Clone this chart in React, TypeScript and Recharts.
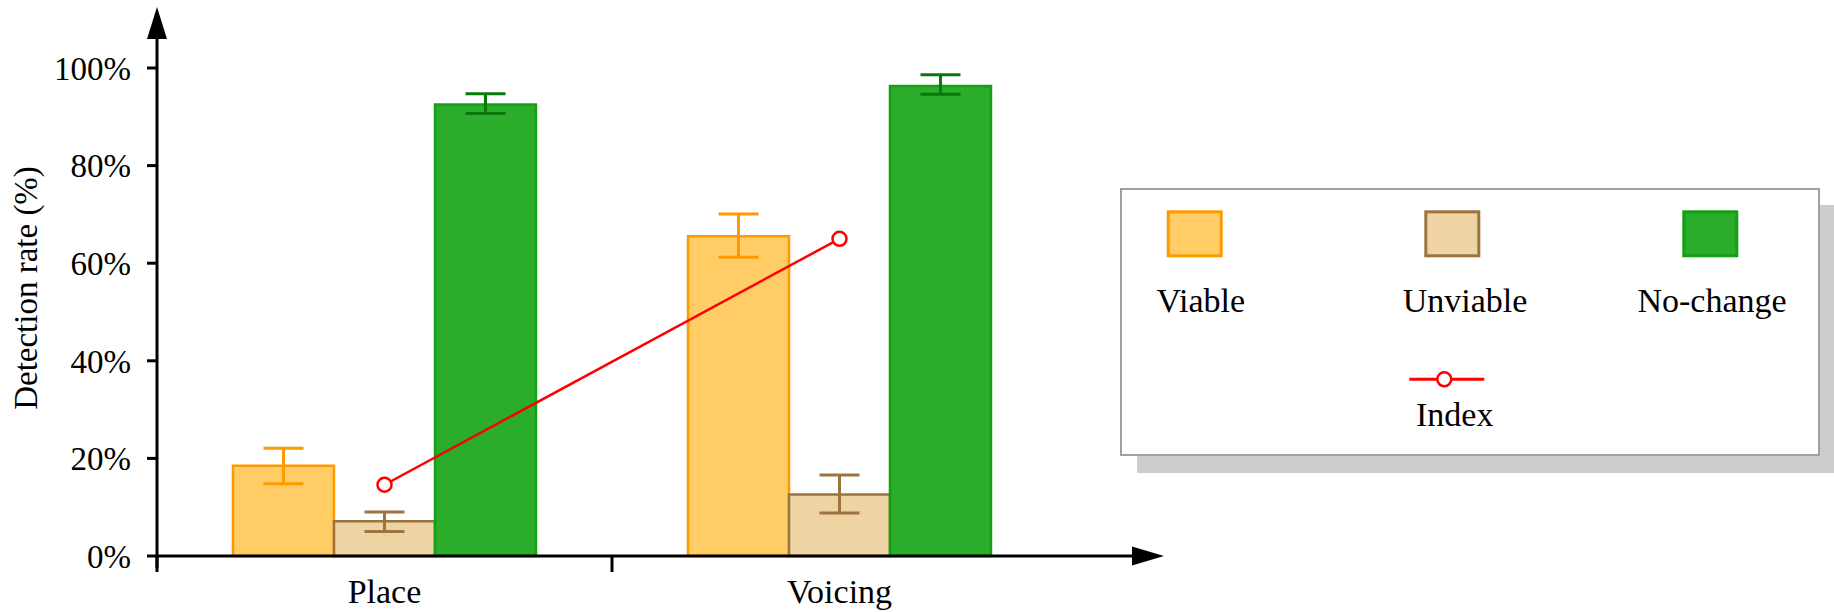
import React from 'react';
import { ComposedChart, Bar, Line, XAxis, YAxis, ErrorBar, Legend } from 'recharts';

// ---- data ----
const categories = ['Place', 'Voicing'];
const viable = [18.5, 65.5];
const viableErr = [[3.7, 3.6], [4.3, 4.6]];
const unviable = [7.1, 12.6];
const unviableErr = [[2.1, 1.9], [3.8, 4.0]];
const noChange = [92.5, 96.3];
const noChangeErr = [[1.8, 2.2], [1.7, 2.3]];
const indexValues = [14.6, 65.0];
const yTicks = [0, 20, 40, 60, 80, 100];
const seriesNames = ['Viable', 'Unviable', 'No-change'];
const indexName = 'Index';
const yLabel = 'Detection rate (%)';

// ---- styles ----
const FONT = "'Liberation Serif', 'Times New Roman', Times, serif";
const fills = ['#FFCC66', '#EED3A3', '#2BAC2B'];
const strokes = ['#FF9900', '#9C7440', '#14A014'];
const errStrokes = ['#FF9900', '#9C7440', '#0B780B'];
const INDEX_COLOR = '#FF0000';

const W = 1834;
const H = 612;
const PLOT_LEFT = 157;
const PLOT_TOP = 68;
const PLOT_BOTTOM = 556;
const PLOT_RIGHT = 1067;
const Y_AXIS_W = 60;
const X_AXIS_H = H - PLOT_BOTTOM;

const data = categories.map((c, i) => ({
  name: c,
  viable: viable[i],
  viableErr: viableErr[i],
  unviable: unviable[i],
  unviableErr: unviableErr[i],
  noChange: noChange[i],
  noChangeErr: noChangeErr[i],
  index: indexValues[i],
}));

const XTick = (props: any) => {
  const { x, y, payload } = props;
  const half = payload && payload.offset ? payload.offset : 0;
  return (
    <g>
      <line x1={x - half} x2={x - half} y1={y} y2={y + 16} stroke="#000" strokeWidth={3} />
      <text x={x} y={y + 47} textAnchor="middle" fontFamily={FONT} fontSize={34} fill="#000">
        {payload.value}
      </text>
    </g>
  );
};

const LegendBox = () => {
  const swatchX = [46.7, 304.3, 562.3];
  const textX = [80.8, 345, 592];
  return (
    <div style={{ position: 'relative', width: 700, height: 268 }}>
      <div
        style={{
          position: 'absolute',
          left: 0,
          top: 0,
          width: 700,
          height: 268,
          boxSizing: 'border-box',
          border: '2.5px solid #A0A0A0',
          background: '#fff',
          boxShadow: '17px 17px 0 #CCCCCC',
        }}
      />
      <svg width={700} height={268} style={{ position: 'absolute', left: 0, top: 0 }}>
        {seriesNames.map((n, i) => (
          <g key={n}>
            <rect x={swatchX[i] + 1.5} y={23.8} width={53} height={44} fill={fills[i]} stroke={strokes[i]} strokeWidth={3} />
            <text x={textX[i]} y={123.7} textAnchor="middle" fontFamily={FONT} fontSize={34} fill="#000">
              {n}
            </text>
          </g>
        ))}
        <line x1={289.3} x2={364.3} y1={191.3} y2={191.3} stroke={INDEX_COLOR} strokeWidth={3} />
        <circle cx={324.3} cy={191.3} r={7} fill="#fff" stroke={INDEX_COLOR} strokeWidth={2.5} />
        <text x={334.7} y={238} textAnchor="middle" fontFamily={FONT} fontSize={34} fill="#000">
          {indexName}
        </text>
      </svg>
    </div>
  );
};

export default function App() {
  return (
    <div style={{ position: 'absolute', left: 0, top: 0, width: W, height: H, background: '#fff' }}>
      <ComposedChart
        width={W}
        height={H}
        data={data}
        margin={{ top: PLOT_TOP, right: W - PLOT_RIGHT, bottom: 0, left: PLOT_LEFT - Y_AXIS_W }}
        barCategoryGap="16.7%"
        barGap={0}
      >
        <XAxis
          dataKey="name"
          height={X_AXIS_H}
          axisLine={false}
          tickLine={false}
          tickSize={0}
          tickMargin={0}
          tick={<XTick />}
          interval={0}
        />
        <YAxis
          width={Y_AXIS_W}
          domain={[0, 100]}
          ticks={yTicks}
          interval={0}
          axisLine={false}
          tickLine={{ stroke: '#000', strokeWidth: 3 }}
          tickSize={10}
          tickMargin={16}
          tickFormatter={(v: number) => `${v}%`}
          tick={{ fill: '#000', fontSize: 33, fontFamily: FONT }}
          label={(p: any) => (
            <text
              x={0}
              y={0}
              transform={`translate(37, 288) rotate(-90)`}
              textAnchor="middle"
              fontFamily={FONT}
              fontSize={33}
              fill="#000"
            >
              {yLabel}
            </text>
          )}
        />
        <Bar dataKey="viable" name={seriesNames[0]} fill={fills[0]} stroke={strokes[0]} strokeWidth={2.5} isAnimationActive={false}>
          <ErrorBar dataKey="viableErr" width={20} stroke={errStrokes[0]} strokeWidth={3} />
        </Bar>
        <Bar dataKey="unviable" name={seriesNames[1]} fill={fills[1]} stroke={strokes[1]} strokeWidth={2.5} isAnimationActive={false}>
          <ErrorBar dataKey="unviableErr" width={20} stroke={errStrokes[1]} strokeWidth={3} />
        </Bar>
        <Bar dataKey="noChange" name={seriesNames[2]} fill={fills[2]} stroke={strokes[2]} strokeWidth={2.5} isAnimationActive={false}>
          <ErrorBar dataKey="noChangeErr" width={20} stroke={errStrokes[2]} strokeWidth={3} />
        </Bar>
        <Line
          dataKey="index"
          name={indexName}
          stroke={INDEX_COLOR}
          strokeWidth={2.5}
          dot={{ r: 7, fill: '#fff', stroke: INDEX_COLOR, strokeWidth: 2.5 }}
          isAnimationActive={false}
        />
        <Legend
          layout="horizontal"
          verticalAlign="middle"
          align="center"
          content={() => <LegendBox />}
          wrapperStyle={{ left: 1120, top: 188, width: 700, height: 268 }}
        />
      </ComposedChart>
      <svg
        width={W}
        height={H}
        style={{ position: 'absolute', left: 0, top: 0, pointerEvents: 'none' }}
      >
        {/* y axis with arrow */}
        <line x1={PLOT_LEFT} x2={PLOT_LEFT} y1={39} y2={PLOT_BOTTOM + 12} stroke="#000" strokeWidth={3} />
        <polygon points={`${PLOT_LEFT - 10},39 ${PLOT_LEFT + 10},39 ${PLOT_LEFT},7`} fill="#000" />
        {/* x axis with arrow */}
        <line x1={PLOT_LEFT} x2={1133} y1={PLOT_BOTTOM} y2={PLOT_BOTTOM} stroke="#000" strokeWidth={3} />
        <polygon points={`1132,${PLOT_BOTTOM - 9.5} 1132,${PLOT_BOTTOM + 9.5} 1164,${PLOT_BOTTOM}`} fill="#000" />
      </svg>
    </div>
  );
}
